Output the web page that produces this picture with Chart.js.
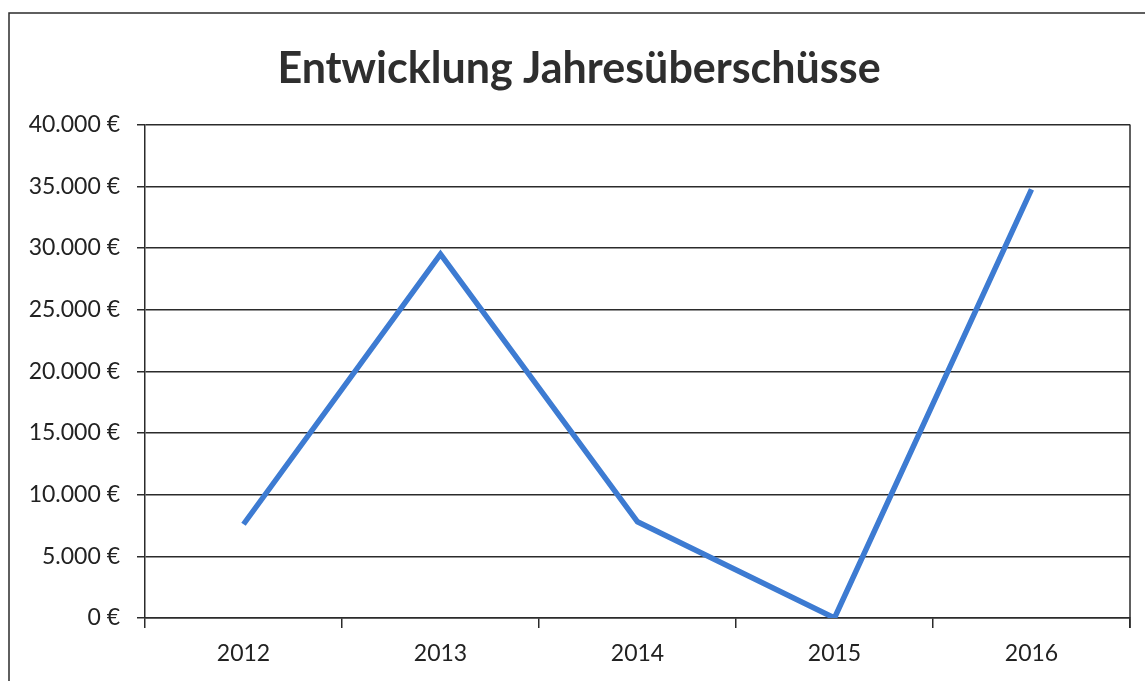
<!DOCTYPE html>
<html>
<head>
<meta charset="utf-8">
<script src="https://cdn.jsdelivr.net/npm/chart.js@4.4.0/dist/chart.umd.min.js"></script>
<style>
  html, body { margin: 0; padding: 0; background: #fff; }
  #wrap { width: 1145px; height: 681px; position: relative; }
</style>
</head>
<body>
<div id="wrap"><canvas id="grafico" width="1145" height="681"></canvas></div>
<script>
// ===== DATEN =====
const jahre = ['2012', '2013', '2014', '2015', '2016'];
const ueberschuesse = [7600, 29500, 7800, 0, 34750];
const yTicks = [0, 5000, 10000, 15000, 20000, 25000, 30000, 35000, 40000];

const schrift = 'Lato, "Open Sans", sans-serif';
const linie = '#2b2b2b';

function euro(v) {
  return v.toLocaleString('de-DE') + ' €';
}

// Rahmen + rechte Kante der Zeichenfläche
const rahmen = {
  id: 'rahmen',
  beforeDraw(chart) {
    const c = chart.ctx;
    c.save();
    c.fillStyle = '#fff';
    c.fillRect(0, 0, chart.width, chart.height);
    c.strokeStyle = linie;
    c.lineWidth = 1.5;
    c.strokeRect(9, 13, 1200, 700);
    c.restore();
  },
  afterDraw(chart) {
    const a = chart.chartArea;
    const c = chart.ctx;
    c.save();
    c.strokeStyle = linie;
    c.lineWidth = 1.5;
    c.beginPath();
    c.moveTo(a.right, a.top);
    c.lineTo(a.right, a.bottom + 10);
    c.stroke();
    c.restore();
  }
};

new Chart(document.getElementById('grafico'), {
  type: 'line',
  data: {
    labels: jahre,
    datasets: [{
      data: ueberschuesse,
      borderColor: '#3d7bd2',
      borderWidth: 5.5,
      pointRadius: 0,
      tension: 0,
      fill: false
    }]
  },
  options: {
    responsive: false,
    animation: false,
    layout: { padding: { left: 28, right: 15, top: 0, bottom: 0 } },
    plugins: {
      legend: { display: false },
      tooltip: { enabled: false },
      title: {
        display: true,
        text: 'Entwicklung Jahresüberschüsse',
        color: '#2e2e2e',
        font: { family: schrift, size: 43, weight: 'bold' },
        padding: { top: 43, bottom: 30 }
      }
    },
    scales: {
      x: {
        offset: true,
        grid: {
          offset: true,
          drawOnChartArea: false,
          color: linie,
          lineWidth: 1.5,
          tickLength: 10
        },
        border: { color: linie, width: 1.5 },
        ticks: {
          color: '#222',
          font: { family: schrift, size: 23 },
          padding: 12
        },
        afterFit(s) { s.height = 63; }
      },
      y: {
        min: 0,
        max: 40000,
        afterBuildTicks(s) { s.ticks = yTicks.map(v => ({ value: v })); },
        grid: {
          color: linie,
          lineWidth: 1.5,
          tickLength: 8
        },
        border: { color: linie, width: 1.5 },
        ticks: {
          color: '#222',
          font: { family: schrift, size: 23 },
          padding: 17,
          callback: v => euro(v)
        },
        afterFit(s) { s.width = 117; }
      }
    }
  },
  plugins: [rahmen]
});
</script>
</body>
</html>
